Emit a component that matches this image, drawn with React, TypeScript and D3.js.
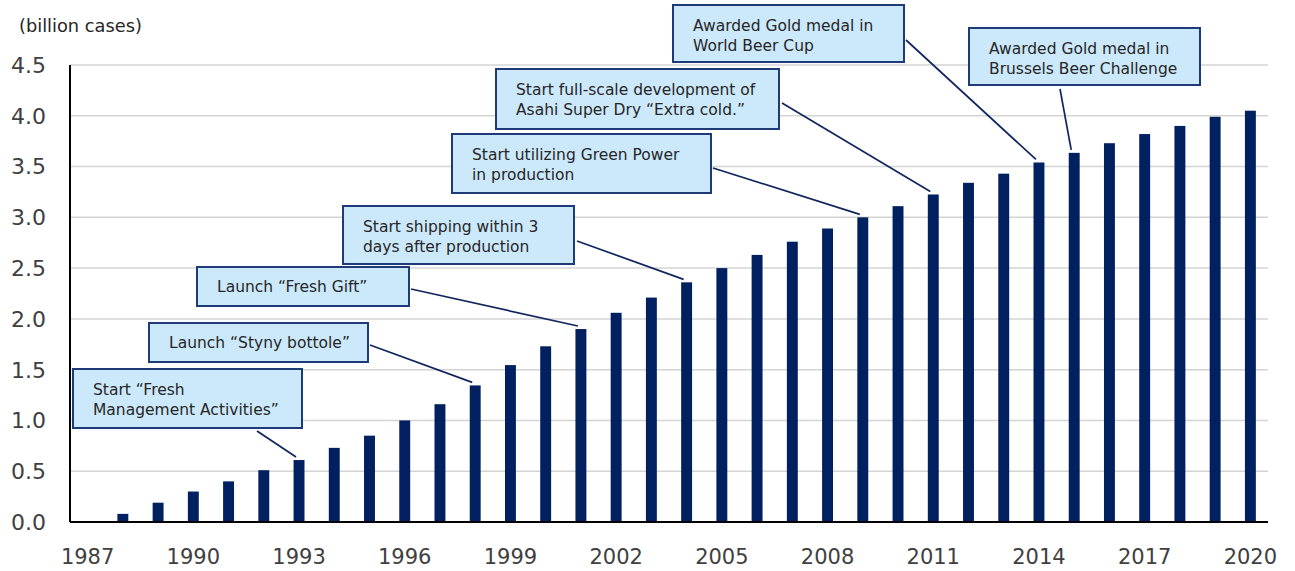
import * as d3 from "d3";

const years = [
  1987, 1988, 1989, 1990, 1991, 1992, 1993, 1994, 1995, 1996, 1997, 1998,
  1999, 2000, 2001, 2002, 2003, 2004, 2005, 2006, 2007, 2008, 2009, 2010,
  2011, 2012, 2013, 2014, 2015, 2016, 2017, 2018, 2019, 2020
];

// cumulative sales, billion cases (1987 has no bar)
const sales = [
  null, 0.08, 0.19, 0.3, 0.4, 0.51, 0.61, 0.73, 0.85, 1.0, 1.16, 1.345,
  1.545, 1.73, 1.9, 2.06, 2.21, 2.36, 2.5, 2.63, 2.76, 2.89, 3.0, 3.11,
  3.225, 3.34, 3.43, 3.54, 3.635, 3.73, 3.82, 3.9, 3.99, 4.05
];

const xTickYears = [1987, 1990, 1993, 1996, 1999, 2002, 2005, 2008, 2011, 2014, 2017, 2020];
const yTicks = [0, 0.5, 1, 1.5, 2, 2.5, 3, 3.5, 4, 4.5];

const eventYears = [1993, 1998, 2001, 2004, 2009, 2011, 2014, 2015];
const eventTexts = [
  ["Start \u201cFresh", "Management Activities\u201d"],
  ["Launch \u201cStyny bottole\u201d"],
  ["Launch \u201cFresh Gift\u201d"],
  ["Start shipping within 3", "days after production"],
  ["Start utilizing Green Power", "in production"],
  ["Start full-scale development of", "Asahi Super Dry \u201cExtra cold.\u201d"],
  ["Awarded Gold medal in", "World Beer Cup"],
  ["Awarded Gold medal in", "Brussels Beer Challenge"]
];

// callout box placement (layout only)
const boxes = [
  { x: 73, y: 369, w: 229, h: 59, sx: 257, sy: 431 },
  { x: 149, y: 323, w: 219, h: 39, sx: 370, sy: 345 },
  { x: 197, y: 267, w: 212, h: 39, sx: 411, sy: 289 },
  { x: 343, y: 206, w: 231, h: 58, sx: 577, sy: 241 },
  { x: 452, y: 134, w: 259, h: 59, sx: 713, sy: 168 },
  { x: 496, y: 69, w: 283, h: 60, sx: 782, sy: 103 },
  { x: 673, y: 5, w: 231, h: 57, sx: 906, sy: 40 },
  { x: 969, y: 28, w: 231, h: 57, sx: 1060, sy: 89 }
];

const W = 1295;
const H = 571;
const left = 70;
const right = 1268;
const top = 65;
const bottom = 522;
const font = "'DejaVu Sans', Verdana, sans-serif";
const navy = "#002060";

export default function App() {
  const x = d3
    .scaleBand<number>()
    .domain(years)
    .range([left, right])
    .paddingInner(0.69)
    .paddingOuter(0.345);

  const y = d3.scaleLinear().domain([0, 4.5]).range([bottom, top]);

  const cx = (yr: number) => (x(yr) ?? 0) + x.bandwidth() / 2;

  return (
    <svg
      width={W}
      height={H}
      style={{ position: "absolute", left: 0, top: 0, background: "#fff" }}
      fontFamily={font}
    >
      <text x={19} y={32} fontSize={17.8} fill="#262626">
        (billion cases)
      </text>

      {yTicks.map(t => (
        <g key={t}>
          {t > 0 && (
            <line
              x1={left}
              x2={right}
              y1={y(t)}
              y2={y(t)}
              stroke="#d4d4d4"
              strokeWidth={1.5}
            />
          )}
          <text
            x={46}
            y={y(t)}
            dy="0.36em"
            textAnchor="end"
            fontSize={22}
            fill="#404040"
          >
            {t.toFixed(1)}
          </text>
        </g>
      ))}

      {years.map((yr, i) =>
        sales[i] == null ? null : (
          <rect
            key={yr}
            x={x(yr)}
            y={y(sales[i] as number)}
            width={x.bandwidth()}
            height={bottom - y(sales[i] as number)}
            fill={navy}
          />
        )
      )}

      <line x1={left} x2={left} y1={top} y2={bottom} stroke="#000" strokeWidth={2} />
      <line x1={left} x2={right} y1={bottom} y2={bottom} stroke="#000" strokeWidth={2} />

      {xTickYears.map(yr => (
        <text
          key={yr}
          x={cx(yr)}
          y={564}
          textAnchor="middle"
          fontSize={21}
          fill="#404040"
        >
          {yr}
        </text>
      ))}

      {eventYears.map((yr, i) => {
        const b = boxes[i];
        const v = sales[years.indexOf(yr)] as number;
        const lines = eventTexts[i];
        return (
          <g key={yr}>
            <line
              x1={b.sx}
              y1={b.sy}
              x2={cx(yr) - 3}
              y2={y(v) - 3}
              stroke="#12265e"
              strokeWidth={1.7}
            />
            <rect
              x={b.x}
              y={b.y}
              width={b.w}
              height={b.h}
              fill="#cce9fb"
              stroke="#1f3a78"
              strokeWidth={2}
            />
            {lines.map((s, j) => (
              <text
                key={j}
                x={b.x + 20}
                y={b.y + (lines.length === 1 ? 25 : 26 + j * 19.5)}
                fontSize={15.5}
                fill="#262626"
              >
                {s}
              </text>
            ))}
          </g>
        );
      })}
    </svg>
  );
}
